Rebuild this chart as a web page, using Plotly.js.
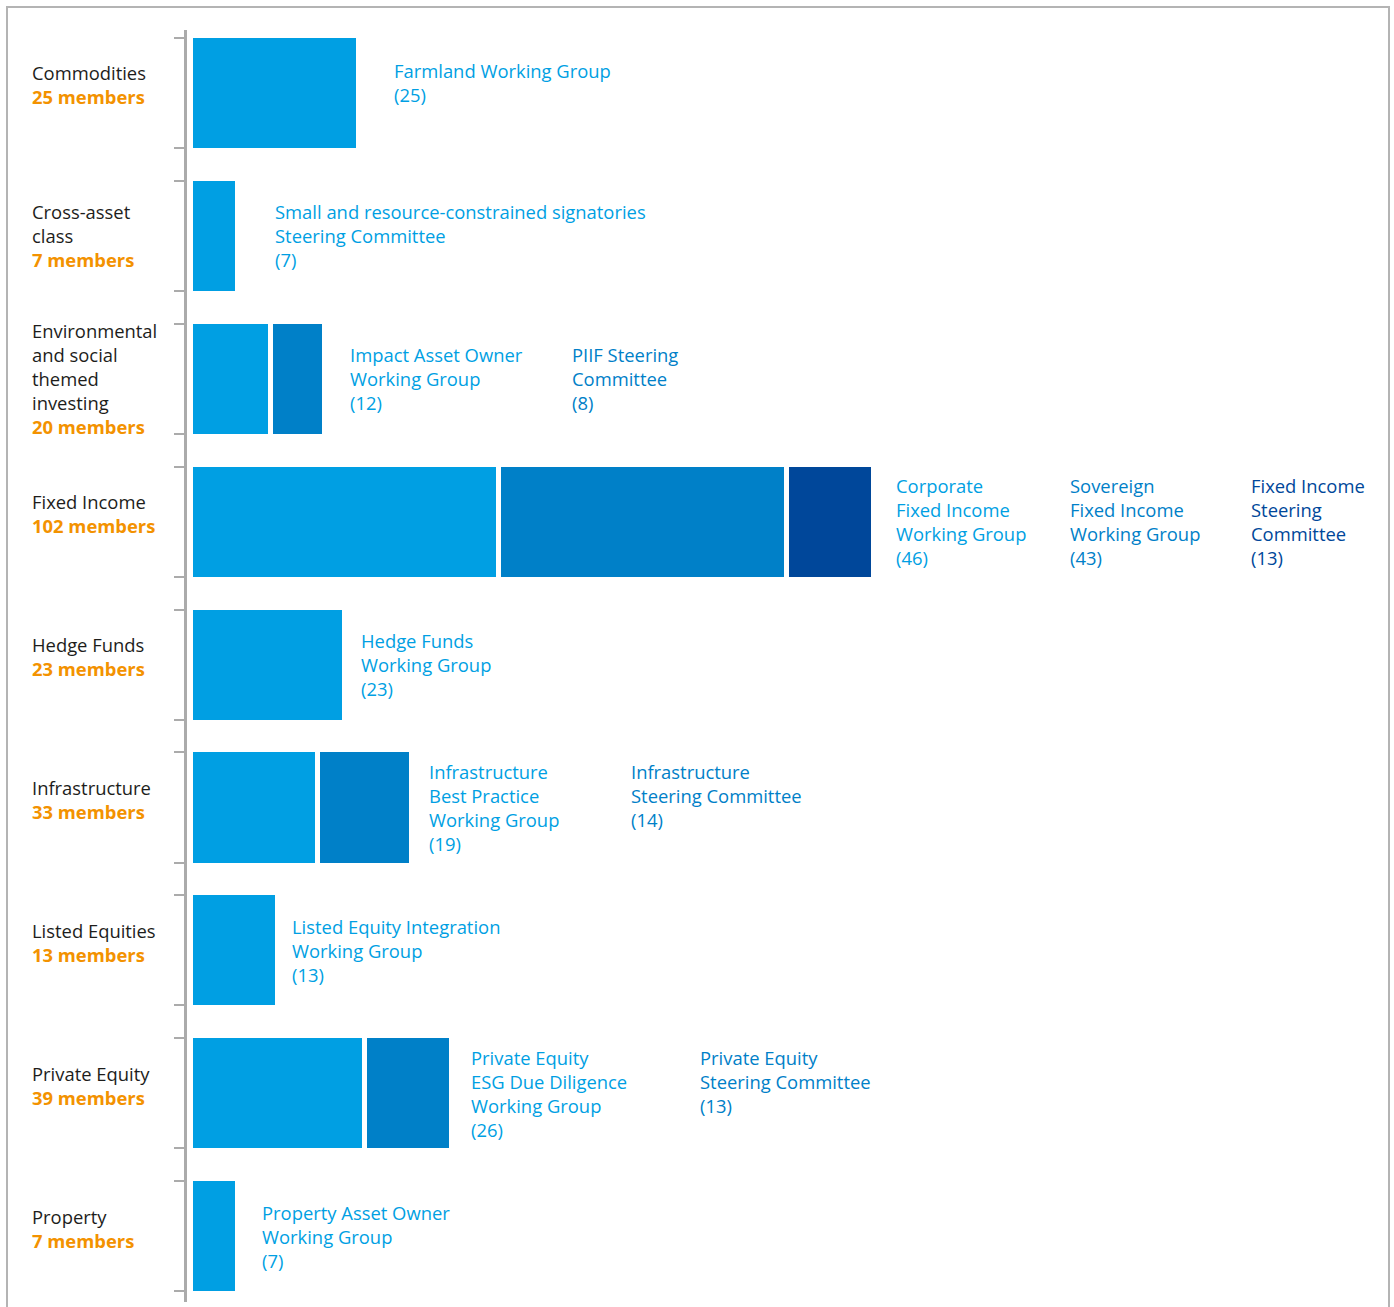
<!DOCTYPE html>
<html>
<head>
<meta charset="utf-8">
<script src="https://cdn.plot.ly/plotly-3.0.1.min.js"></script>
<style>
  html, body { margin: 0; padding: 0; background: #ffffff; }
  #frame { position: absolute; left: 6px; top: 6px; width: 1384px; height: 1320px; border: 2px solid #b4b4b4; box-sizing: border-box; }
  #chart { position: absolute; left: 0; top: 0; width: 1394px; height: 1307px; }
</style>
</head>
<body>
<div id="frame"></div>
<div id="chart"></div>
<script>
// ---------------- DATA ----------------
const categories = [
  "Commodities", "Cross-asset class", "Environmental and social themed investing",
  "Fixed Income", "Hedge Funds", "Infrastructure", "Listed Equities",
  "Private Equity", "Property"
];
const categoryLabels = [
  "Commodities", "Cross-asset<br>class", "Environmental<br>and social<br>themed<br>investing",
  "Fixed Income", "Hedge Funds", "Infrastructure", "Listed Equities",
  "Private Equity", "Property"
];
const seg1Values = [25, 7, 12, 46, 23, 19, 13, 26, 7];
const seg2Values = [null, null, 8, 43, null, 14, null, 13, null];
const seg3Values = [null, null, null, 13, null, null, null, null, null];
const seg1Names = [
  "Farmland Working Group",
  "Small and resource-constrained signatories<br>Steering Committee",
  "Impact Asset Owner<br>Working Group",
  "Corporate<br>Fixed Income<br>Working Group",
  "Hedge Funds<br>Working Group",
  "Infrastructure<br>Best Practice<br>Working Group",
  "Listed Equity Integration<br>Working Group",
  "Private Equity<br>ESG Due Diligence<br>Working Group",
  "Property Asset Owner<br>Working Group"
];
const seg2Names = [null, null, "PIIF Steering<br>Committee", "Sovereign<br>Fixed Income<br>Working Group",
  null, "Infrastructure<br>Steering Committee", null, "Private Equity<br>Steering Committee", null];
const seg3Names = [null, null, null, "Fixed Income<br>Steering<br>Committee", null, null, null, null, null];

// ---------------- STYLE / LAYOUT ----------------
const segColors = ["#009fe3", "#0080c8", "#00479a"];
const orange = "#f39200";
const axisGrey = "#ababab";
const FONT = "Open Sans, Noto Sans, sans-serif";
const FSIZE = 18.4;
const LINE_H = 23.5;
const plotLeft = 187;
// x pixel (page) position of each group label column per row
const labelColumnsPx = [
  [394], [275], [350, 572], [896, 1070, 1251], [361], [429, 631], [292], [471, 700], [262]
];
const barWidth = 0.805;      // includes white separator stroke
const visibleHalf = 0.385;   // visible half-height of bars in category units

const segValues = [seg1Values, seg2Values, seg3Values];
const segNames = [seg1Names, seg2Names, seg3Names];

const traces = segValues.map((vals, k) => ({
  type: "bar",
  orientation: "h",
  x: vals,
  y: categories,
  width: barWidth,
  marker: { color: segColors[k], line: { color: "#ffffff", width: 5 } },
  hoverinfo: "skip",
  showlegend: false
}));
// invisible helper trace for the tick axis
traces.push({ type: "scatter", x: [], y: [], yaxis: "y2", xaxis: "x", showlegend: false, hoverinfo: "skip" });

const annotations = [];
const tickVals = [];
categories.forEach((cat, i) => {
  const total = segValues.reduce((s, arr) => s + (arr[i] || 0), 0);
  const nLines = categoryLabels[i].split("<br>").length + 1;
  annotations.push({
    xref: "paper", yref: "y", x: 0, y: cat,
    xanchor: "left", yanchor: "middle", align: "left",
    xshift: 30 - plotLeft, yshift: nLines === 2 ? 8 : 0,
    showarrow: false,
    text: categoryLabels[i] + "<br><b><span style='color:" + orange + "'>" + total + " members</span></b>",
    font: { family: FONT, size: FSIZE, color: "#1d1d1b" }
  });
  const texts = [];
  segValues.forEach((vals, k) => {
    if (vals[i] == null) return;
    texts.push({ txt: segNames[k][i] + "<br>(" + vals[i] + ")", k: k });
  });
  const maxLines = Math.max(...texts.map(t => t.txt.split("<br>").length));
  texts.forEach((t, col) => {
    const lines = t.txt.split("<br>").length;
    annotations.push({
      xref: "paper", yref: "y", x: 0, y: cat,
      xanchor: "left", yanchor: "middle", align: "left",
      xshift: labelColumnsPx[i][col] - plotLeft - 2,
      yshift: (maxLines - lines) * LINE_H / 2 + (maxLines === 2 ? 10 : 0),
      showarrow: false,
      text: t.txt,
      font: { family: FONT, size: FSIZE, color: segColors[t.k] }
    });
  });
  tickVals.push(i - visibleHalf, i + visibleHalf);
});

const scale = 6.7;  // px per member
const plotWidth = 1394 - plotLeft - 9;
const xMin = -3.5 / scale;
const xMax = xMin + plotWidth / scale;
const yRange = [8.46, -0.44];

const layout = {
  width: 1394, height: 1307,
  margin: { l: plotLeft, r: 9, t: 30, b: 5, pad: 0 },
  paper_bgcolor: "rgba(0,0,0,0)",
  plot_bgcolor: "rgba(0,0,0,0)",
  barmode: "stack",
  showlegend: false,
  font: { family: FONT },
  xaxis: { range: [xMin, xMax], showgrid: false, zeroline: false, showline: false, showticklabels: false, ticks: "", fixedrange: true },
  yaxis: {
    type: "category", categoryorder: "array", categoryarray: categories,
    range: yRange, showgrid: false, zeroline: false, showticklabels: false, ticks: "",
    showline: true, linecolor: axisGrey, linewidth: 3, fixedrange: true
  },
  yaxis2: {
    overlaying: "y", side: "left", anchor: "x", type: "linear",
    range: yRange, tickvals: tickVals, ticks: "outside", ticklen: 12, tickwidth: 2,
    tickcolor: axisGrey, showticklabels: false, showgrid: false, zeroline: false, showline: false, fixedrange: true
  },
  annotations: annotations
};

Plotly.newPlot("chart", traces, layout, { displayModeBar: false, staticPlot: true });
</script>
</body>
</html>
